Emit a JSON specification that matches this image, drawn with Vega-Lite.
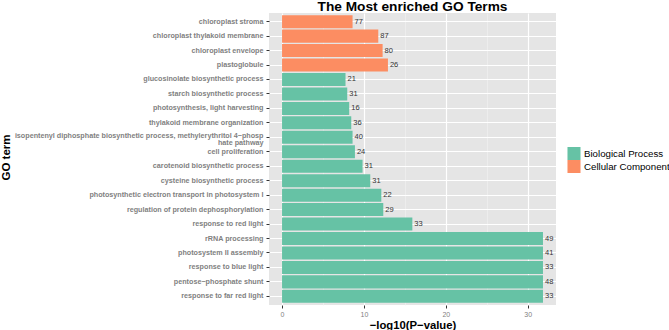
{
  "$schema": "https://vega.github.io/schema/vega-lite/v6.json",
  "autosize": {"type": "none"},
  "padding": {"left": 269, "top": 13, "right": 113, "bottom": 25},
  "width": 287,
  "height": 292,
  "background": "white",
  "title": {
    "text": "The Most enriched GO Terms",
    "fontSize": 13.7,
    "fontWeight": "bold",
    "font": "Liberation Sans",
    "color": "black",
    "anchor": "middle",
    "offset": -1
  },
  "config": {
    "view": {"fill": "#E5E5E5", "stroke": null},
    "font": "Liberation Sans"
  },
  "data": {
    "values": [
      {"term": "chloroplast stroma", "category": "Cellular Component", "value": 8.61, "count": 77},
      {"term": "chloroplast thylakoid membrane", "category": "Cellular Component", "value": 11.75, "count": 87},
      {"term": "chloroplast envelope", "category": "Cellular Component", "value": 12.28, "count": 80},
      {"term": "plastoglobule", "category": "Cellular Component", "value": 12.93, "count": 26},
      {"term": "glucosinolate biosynthetic process", "category": "Biological Process", "value": 7.75, "count": 21},
      {"term": "starch biosynthetic process", "category": "Biological Process", "value": 7.96, "count": 31},
      {"term": "photosynthesis, light harvesting", "category": "Biological Process", "value": 8.2, "count": 16},
      {"term": "thylakoid membrane organization", "category": "Biological Process", "value": 8.45, "count": 36},
      {"term": "isopentenyl diphosphate biosynthetic process, methylerythritol 4−phosphate pathway", "category": "Biological Process", "value": 8.61, "count": 40},
      {"term": "cell proliferation", "category": "Biological Process", "value": 8.9, "count": 24},
      {"term": "carotenoid biosynthetic process", "category": "Biological Process", "value": 9.83, "count": 31},
      {"term": "cysteine biosynthetic process", "category": "Biological Process", "value": 10.77, "count": 31},
      {"term": "photosynthetic electron transport in photosystem I", "category": "Biological Process", "value": 12.12, "count": 22},
      {"term": "regulation of protein dephosphorylation", "category": "Biological Process", "value": 12.36, "count": 29},
      {"term": "response to red light", "category": "Biological Process", "value": 15.91, "count": 33},
      {"term": "rRNA processing", "category": "Biological Process", "value": 31.86, "count": 49},
      {"term": "photosystem II assembly", "category": "Biological Process", "value": 31.86, "count": 41},
      {"term": "response to blue light", "category": "Biological Process", "value": 31.86, "count": 33},
      {"term": "pentose−phosphate shunt", "category": "Biological Process", "value": 31.86, "count": 48},
      {"term": "response to far red light", "category": "Biological Process", "value": 31.86, "count": 33}
    ]
  },
  "encoding": {
    "y": {
      "field": "term",
      "type": "nominal",
      "sort": null,
      "scale": {"paddingInner": 0.1, "paddingOuter": 0.15},
      "axis": {
        "title": "GO term",
        "titleFontSize": 11.5,
        "titleFontWeight": "bold",
        "titleColor": "black",
        "titleX": -260,
        "titleY": 144,
        "titleAngle": -90,
        "titleAlign": "center",
        "titleBaseline": "alphabetic",
        "labelFontSize": 7.2,
        "labelFontWeight": "bold",
        "labelColor": "#7F7F7F",
        "labelPadding": 3,
        "labelLineHeight": 7.5,
        "labelLimit": 400,
        "labelOffset": {"condition": {"test": "length(datum.label) > 70", "value": -1.5}, "value": 0},
        "labelExpr": "length(datum.label) > 70 ? [substring(datum.label, 0, 70), substring(datum.label, 70)] : datum.label",
        "tickSize": 3,
        "tickColor": "#333333",
        "domain": false,
        "grid": true,
        "gridColor": "white",
        "gridWidth": 1.2,
        "bandPosition": 0.5
      }
    },
    "x": {
      "field": "value",
      "type": "quantitative",
      "scale": {"domain": [-1.593, 33.45], "nice": false, "zero": false},
      "axis": {
        "title": "−log10(P−value)",
        "titleFontSize": 11.3,
        "titleFontWeight": "bold",
        "titleColor": "black",
        "titlePadding": 2,
        "values": [0, 5, 10, 15, 20, 25, 30],
        "labelExpr": "datum.value % 10 == 0 ? datum.label : ''",
        "labelFontSize": 7,
        "labelColor": "#7F7F7F",
        "labelPadding": 2,
        "tickSize": 3,
        "tickColor": "#333333",
        "tickOpacity": {"condition": {"test": "datum.value % 10 != 0", "value": 0}, "value": 1},
        "domain": false,
        "grid": true,
        "gridColor": {"condition": {"test": "datum.value % 10 != 0", "value": "#F2F2F2"}, "value": "white"},
        "gridWidth": {"condition": {"test": "datum.value % 10 != 0", "value": 0.6}, "value": 1.2}
      }
    }
  },
  "layer": [
    {
      "mark": {"type": "bar"},
      "encoding": {
        "fill": {
          "field": "category",
          "type": "nominal",
          "scale": {"domain": ["Biological Process", "Cellular Component"], "range": ["#66C2A5", "#FC8D62"]},
          "legend": {
            "title": null,
            "orient": "none",
            "legendX": 298,
            "legendY": 134,
            "symbolType": "square",
            "symbolSize": 170,
            "symbolStrokeWidth": 0,
            "rowPadding": 0,
            "labelFontSize": 9.7,
            "labelColor": "black",
            "labelOffset": 3,
            "clipHeight": 13
          }
        }
      }
    },
    {
      "mark": {"type": "text", "align": "left", "baseline": "middle", "dx": 2, "fontSize": 7.5, "color": "#333333"},
      "encoding": {
        "text": {"field": "count", "type": "quantitative"}
      }
    }
  ]
}
